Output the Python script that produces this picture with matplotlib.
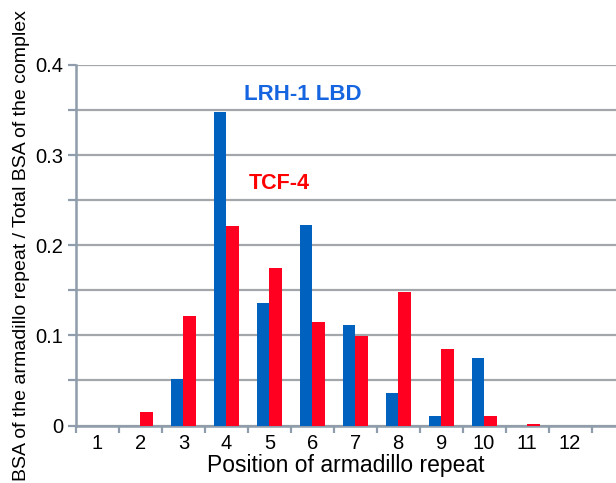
import matplotlib
matplotlib.use("Agg")
import matplotlib.pyplot as plt
import numpy as np

plt.rcParams['font.family'] = ['Liberation Sans', 'DejaVu Sans']

positions = [1, 2, 3, 4, 5, 6, 7, 8, 9, 10, 11, 12]
lrh1 = [0, 0, 0.052, 0.348, 0.136, 0.223, 0.112, 0.036, 0.011, 0.075, 0, 0]
tcf4 = [0, 0.015, 0.121, 0.221, 0.175, 0.115, 0.099, 0.148, 0.085, 0.010, 0.0015, 0]

BLUE = '#0062be'
RED = '#ff0020'
GRID = '#a3a7ab'
AXIS = '#8e9cab'

fig = plt.figure(figsize=(6.16, 4.83), dpi=100)
ax = fig.add_axes([76/616, 57.5/483, 540/616, 360.5/483])

x = np.array(positions)
w = 0.29
ax.bar(x - w/2, lrh1, width=w, color=BLUE, zorder=3)
ax.bar(x + w/2, tcf4, width=w, color=RED, zorder=3)

ax.set_xlim(0.5, 13.07)
ax.set_ylim(0, 0.4)

# y ticks: grid every 0.05, labels every 0.1
ax.set_yticks(np.arange(0, 0.41, 0.1))
ax.set_yticklabels(['0', '0.1', '0.2', '0.3', '0.4'])
ax.set_yticks(np.arange(0.05, 0.4, 0.1), minor=True)
ax.yaxis.grid(True, which='both', color=GRID, lw=1.6, zorder=0)
ax.tick_params(axis='y', which='both', length=6, width=1.6, color=AXIS, pad=3, labelsize=14.5)

# x ticks: labels at categories, marks between categories
ax.set_xticks(positions)
ax.set_xticks(np.arange(0.5, 13, 1), minor=True)
ax.tick_params(axis='x', which='major', length=0, pad=6, labelsize=14.5)
ax.tick_params(axis='x', which='minor', length=5, width=1.6, color=AXIS)

for s in ['top', 'right']:
    ax.spines[s].set_visible(False)
for s in ['left', 'bottom']:
    ax.spines[s].set_color(AXIS)
    ax.spines[s].set_linewidth(1.8)

ax.set_xlabel('Position of armadillo repeat', fontsize=16.5, labelpad=1)
ax.set_ylabel('BSA of the armadillo repeat / Total BSA of the complex', fontsize=14)
ax.yaxis.set_label_coords(-0.086, 0.5)

ax.text(4.4, 0.367, 'LRH-1 LBD', color='#1565e0', fontsize=16, fontweight='bold', va='center', ha='left')
ax.text(4.51, 0.269, 'TCF-4', color='#ff0000', fontsize=15.5, fontweight='bold', va='center', ha='left')

fig.savefig('out.png', dpi=100)
